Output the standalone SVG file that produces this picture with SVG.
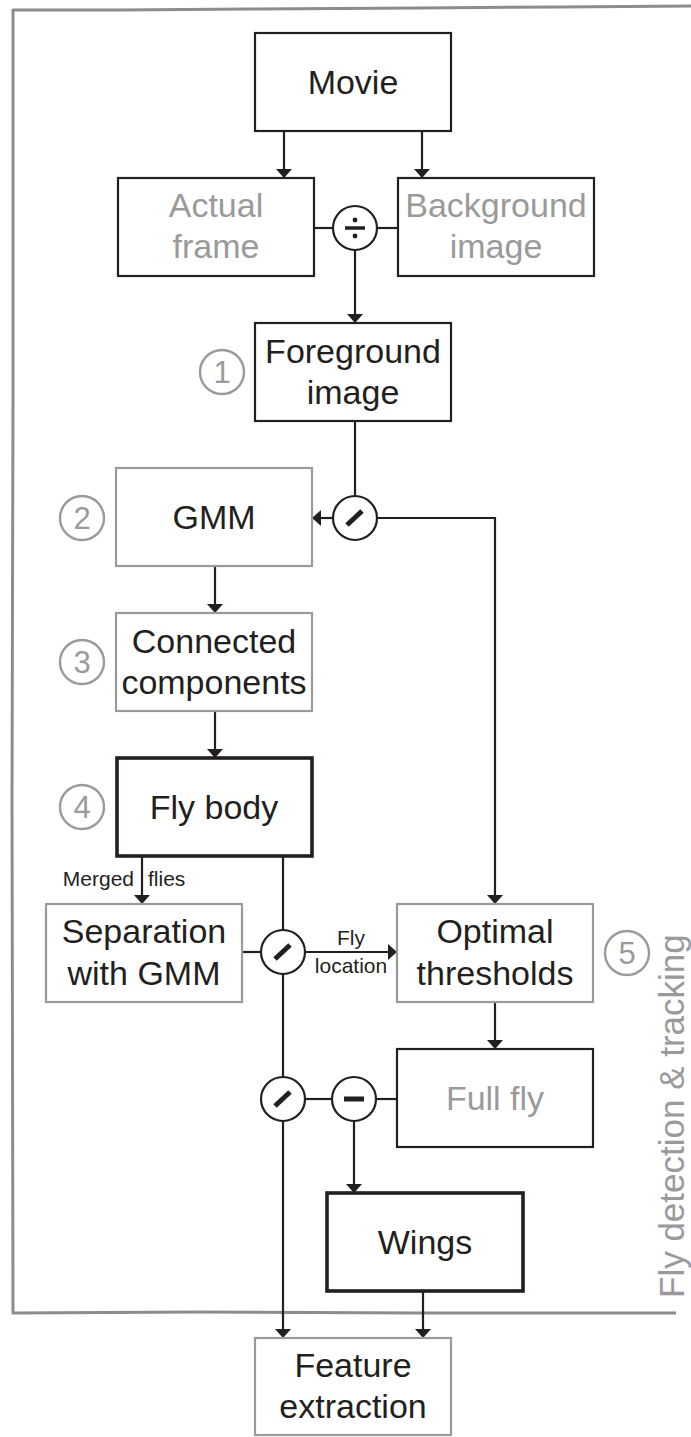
<svg xmlns="http://www.w3.org/2000/svg" width="691" height="1437" viewBox="0 0 691 1437">
<style>
.box{fill:#fff;stroke:#231f20;stroke-width:2.2}
.bold{fill:#fff;stroke:#231f20;stroke-width:3.6}
.gbox{fill:#fff;stroke:#9a9a9a;stroke-width:2.2}
.t{font-family:"Liberation Sans",Arial,sans-serif;font-size:34px;fill:#231f20;text-anchor:middle}
.gt{font-family:"Liberation Sans",Arial,sans-serif;font-size:34px;fill:#9a9a9a;text-anchor:middle}
.s{font-family:"Liberation Sans",Arial,sans-serif;font-size:21px;fill:#231f20}
.num{font-family:"Liberation Sans",Arial,sans-serif;font-size:31px;fill:#9a9a9a;text-anchor:middle}
.nc{fill:#fff;stroke:#9a9a9a;stroke-width:2.4}
.op{fill:#fff;stroke:#231f20;stroke-width:2.2}
.ln{fill:none;stroke:#231f20;stroke-width:2.2}
.ar{fill:none;stroke:#231f20;stroke-width:2.2;marker-end:url(#ah)}
.frame{fill:none;stroke:#8c8c8c;stroke-width:3;stroke-linejoin:round}
</style>
<defs>
<marker id="ah" markerUnits="userSpaceOnUse" markerWidth="18" markerHeight="18" viewBox="-10 -9 11 18" refX="0" refY="0" orient="auto">
<path d="M0,0 L-9,-8 L-9,8 Z" fill="#231f20"/>
</marker>
</defs>

<g id="frame">
<path class="frame" d="M691,6 L560,7 L420,8 L250,9 L120,10 L13,10 L13,400 L12,800 L13,1313 L200,1312 L420,1313 L600,1313 L676,1313"/>
<text x="0" y="0" transform="translate(684,1298) rotate(-90)" font-family="Liberation Sans, Arial, sans-serif" font-size="35" fill="#9a9a9a">Fly detection &amp; tracking</text>
</g>

<g id="connectors">
<line class="ar" x1="284" y1="131" x2="284" y2="178"/>
<line class="ar" x1="422" y1="131" x2="422" y2="178"/>
<line class="ln" x1="314" y1="228" x2="333" y2="228"/>
<line class="ln" x1="377" y1="228" x2="398" y2="228"/>
<line class="ar" x1="355" y1="250" x2="355" y2="323"/>
<line class="ln" x1="355" y1="421" x2="355" y2="496"/>
<line class="ar" x1="332" y1="518" x2="312" y2="518"/>
<polyline class="ar" points="377,518 495,518 495,904"/>
<line class="ar" x1="215" y1="566" x2="215" y2="613"/>
<line class="ar" x1="215" y1="711" x2="215" y2="758"/>
<line class="ar" x1="142" y1="857" x2="142" y2="904"/>
<line class="ln" x1="283" y1="857" x2="283" y2="930"/>
<line class="ln" x1="242" y1="952" x2="261" y2="952"/>
<line class="ar" x1="305" y1="952" x2="397" y2="952"/>
<line class="ln" x1="283" y1="974" x2="283" y2="1077"/>
<line class="ar" x1="495" y1="1002" x2="495" y2="1049"/>
<line class="ln" x1="397" y1="1099" x2="376" y2="1099"/>
<line class="ln" x1="332" y1="1099" x2="305" y2="1099"/>
<line class="ar" x1="354" y1="1121" x2="354" y2="1193"/>
<line class="ar" x1="283" y1="1121" x2="283" y2="1338"/>
<line class="ar" x1="423" y1="1291" x2="423" y2="1338"/>
<text class="s" x="134" y="886" text-anchor="end">Merged</text>
<text class="s" x="148" y="886">flies</text>
<text class="s" x="351" y="945" text-anchor="middle">Fly</text>
<text class="s" x="351" y="973" text-anchor="middle">location</text>
</g>

<g id="movie">
<rect class="box" x="255" y="33" width="196" height="98"/>
<text class="t" x="353" y="94">Movie</text>
</g>
<g id="actual-frame">
<rect class="box" x="118" y="178" width="196" height="98"/>
<text class="gt" x="216" y="217">Actual</text>
<text class="gt" x="216" y="258">frame</text>
</g>
<g id="background-image">
<rect class="box" x="398" y="178" width="196" height="98"/>
<text class="gt" x="496" y="217">Background</text>
<text class="gt" x="496" y="258">image</text>
</g>
<g id="op-divide">
<circle class="op" cx="355" cy="228" r="22"/>
<line x1="345" y1="228" x2="365" y2="228" stroke="#231f20" stroke-width="3.5"/>
<circle cx="355" cy="220" r="2.4" fill="#231f20"/>
<circle cx="355" cy="236" r="2.4" fill="#231f20"/>
</g>
<g id="foreground-image">
<rect class="box" x="255" y="323" width="196" height="98"/>
<text class="t" x="353" y="363">Foreground</text>
<text class="t" x="353" y="404">image</text>
</g>
<g id="step1">
<circle class="nc" cx="222" cy="372" r="22"/>
<text class="num" x="222" y="383">1</text>
</g>
<g id="op-slash1">
<circle class="op" cx="355" cy="518" r="22"/>
<line x1="347" y1="525" x2="362" y2="511" stroke="#231f20" stroke-width="5"/>
</g>
<g id="gmm">
<rect class="gbox" x="116" y="468" width="196" height="98"/>
<text class="t" x="214" y="529">GMM</text>
</g>
<g id="step2">
<circle class="nc" cx="82" cy="518" r="22"/>
<text class="num" x="82" y="529">2</text>
</g>
<g id="connected-components">
<rect class="gbox" x="116" y="613" width="196" height="98"/>
<text class="t" x="214" y="653">Connected</text>
<text class="t" x="214" y="694">components</text>
</g>
<g id="step3">
<circle class="nc" cx="82" cy="662" r="22"/>
<text class="num" x="82" y="673">3</text>
</g>
<g id="fly-body">
<rect class="bold" x="117" y="758" width="195" height="98"/>
<text class="t" x="214" y="819">Fly body</text>
</g>
<g id="step4">
<circle class="nc" cx="82" cy="807" r="22"/>
<text class="num" x="82" y="818">4</text>
</g>
<g id="separation">
<rect class="gbox" x="46" y="904" width="196" height="98"/>
<text class="t" x="144" y="943">Separation</text>
<text class="t" x="144" y="985">with GMM</text>
</g>
<g id="op-slash2">
<circle class="op" cx="283" cy="952" r="22"/>
<line x1="275" y1="959" x2="290" y2="945" stroke="#231f20" stroke-width="5"/>
</g>
<g id="optimal-thresholds">
<rect class="gbox" x="397" y="904" width="196" height="98"/>
<text class="t" x="495" y="943">Optimal</text>
<text class="t" x="495" y="985">thresholds</text>
</g>
<g id="step5">
<circle class="nc" cx="627" cy="953" r="22"/>
<text class="num" x="627" y="964">5</text>
</g>
<g id="full-fly">
<rect class="box" x="397" y="1049" width="196" height="98"/>
<text class="gt" x="495" y="1110">Full fly</text>
</g>
<g id="op-slash3">
<circle class="op" cx="283" cy="1099" r="22"/>
<line x1="275" y1="1106" x2="290" y2="1092" stroke="#231f20" stroke-width="5"/>
</g>
<g id="op-minus">
<circle class="op" cx="354" cy="1099" r="22"/>
<line x1="344" y1="1099" x2="364" y2="1099" stroke="#231f20" stroke-width="5"/>
</g>
<g id="wings">
<rect class="bold" x="327" y="1193" width="196" height="98"/>
<text class="t" x="425" y="1254">Wings</text>
</g>
<g id="feature-extraction">
<rect class="gbox" x="255" y="1338" width="196" height="97"/>
<text class="t" x="353" y="1377">Feature</text>
<text class="t" x="353" y="1418">extraction</text>
</g>
</svg>
